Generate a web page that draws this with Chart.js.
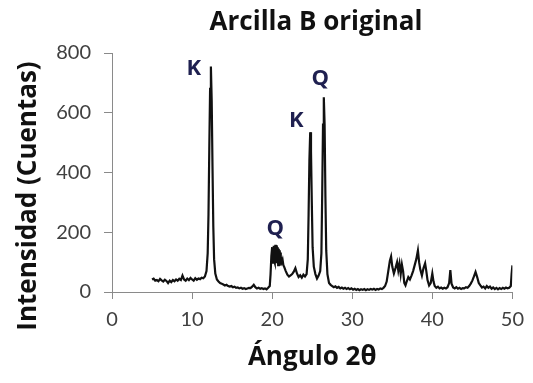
<!DOCTYPE html>
<html>
<head>
<meta charset="utf-8">
<script src="https://cdn.jsdelivr.net/npm/chart.js@4.4.1/dist/chart.umd.min.js"></script>
<style>
  body { margin: 0; background: #fff; }
  #wrap { width: 533px; height: 383px; }
</style>
</head>
<body>
<div id="wrap"><canvas id="xrd-chart" width="533" height="383"></canvas></div>
<script>
// difractograma (2theta, cuentas)
const twoTheta = [
  5.0, 5.2, 5.4, 5.6, 5.8, 6.0, 6.2, 6.4, 6.6, 6.8, 7.0, 7.2, 7.4, 7.6, 7.8, 8.0, 8.2, 8.4, 8.6, 8.8,
  9.0, 9.2, 9.4, 9.6, 9.8, 10.0, 10.2, 10.4, 10.6, 10.8, 11.0, 11.2, 11.4, 11.6, 11.8, 11.95, 12.05, 12.15, 12.25, 12.35,
  12.45, 12.55, 12.65, 12.75, 12.9, 13.1, 13.3, 13.5, 13.7, 13.9, 14.1, 14.3, 14.5, 14.7, 14.9, 15.1, 15.3, 15.5, 15.7, 15.9,
  16.1, 16.3, 16.5, 16.7, 16.9, 17.1, 17.3, 17.5, 17.7, 17.9, 18.1, 18.3, 18.5, 18.7, 18.9, 19.1, 19.3, 19.5, 19.7, 19.8,
  19.9, 20.0, 20.05, 20.1, 20.15, 20.2, 20.25, 20.3, 20.35, 20.4, 20.45, 20.5, 20.55, 20.6, 20.65, 20.7, 20.75, 20.8, 20.85, 20.9,
  20.95, 21.0, 21.05, 21.1, 21.2, 21.3, 21.4, 21.5, 21.7, 21.9, 22.1, 22.3, 22.5, 22.7, 22.9, 23.1, 23.3, 23.5, 23.7, 23.9,
  24.1, 24.3, 24.45, 24.55, 24.65, 24.75, 24.85, 24.95, 25.05, 25.2, 25.4, 25.6, 25.8, 26.0, 26.15, 26.25, 26.35, 26.45, 26.55, 26.65,
  26.75, 26.9, 27.1, 27.3, 27.5, 27.7, 27.9, 28.1, 28.3, 28.5, 28.7, 28.9, 29.1, 29.3, 29.5, 29.7, 29.9, 30.1, 30.3, 30.5,
  30.7, 30.9, 31.1, 31.3, 31.5, 31.7, 31.9, 32.1, 32.3, 32.5, 32.7, 32.9, 33.1, 33.3, 33.5, 33.7, 33.9, 34.1, 34.3, 34.5,
  34.7, 34.85, 35.0, 35.2, 35.4, 35.6, 35.75, 35.9, 36.05, 36.2, 36.35, 36.5, 36.65, 36.8, 37.0, 37.2, 37.4, 37.6, 37.8, 38.0,
  38.2, 38.35, 38.5, 38.7, 38.9, 39.1, 39.25, 39.4, 39.6, 39.8, 40.0, 40.15, 40.3, 40.5, 40.7, 40.9, 41.1, 41.3, 41.5, 41.7,
  41.9, 42.1, 42.25, 42.4, 42.6, 42.8, 43.0, 43.2, 43.4, 43.6, 43.8, 44.0, 44.2, 44.4, 44.6, 44.8, 45.0, 45.2, 45.4, 45.6,
  45.8, 46.0, 46.2, 46.4, 46.6, 46.8, 47.0, 47.2, 47.4, 47.6, 47.8, 48.0, 48.2, 48.4, 48.6, 48.8, 49.0, 49.2, 49.4, 49.6,
  49.8, 49.9, 50.0
];
const counts = [
  42, 45, 38, 40, 36, 44, 39, 35, 41, 37, 30, 38, 33, 40, 36, 42, 38, 44, 40, 55,
  42, 38, 45, 40, 47, 42, 38, 46, 41, 45, 43, 48, 46, 52, 70, 130, 260, 480, 680, 755,
  640, 420, 220, 110, 62, 42, 35, 30, 28, 25, 22, 24, 20, 18, 20, 16, 18, 14, 15, 12,
  14, 11, 13, 10, 12, 14, 13, 18, 24, 16, 12, 14, 11, 13, 10, 12, 9, 14, 20, 60,
  120, 150, 95, 148, 100, 155, 105, 152, 98, 158, 110, 150, 96, 156, 108, 150, 90, 145, 95, 140,
  88, 132, 92, 118, 100, 108, 90, 84, 70, 58, 52, 56, 60, 68, 80, 62, 50, 56, 48, 58,
  52, 60, 110, 260, 440, 535, 470, 300, 150, 85, 60, 45, 55, 70, 130, 330, 560, 652, 560, 320,
  140, 60, 30, 24, 20, 16, 19, 14, 17, 12, 15, 11, 14, 10, 13, 9, 12, 8, 11, 7,
  10, 6, 9, 7, 10, 6, 9, 7, 10, 8, 11, 7, 10, 8, 12, 10, 14, 20, 35, 70,
  105, 119, 85, 62, 80, 100, 72, 95, 60, 92, 70, 30, 22, 35, 50, 42, 55, 70, 90, 110,
  139, 100, 75, 55, 80, 96, 70, 40, 22, 30, 62, 35, 20, 14, 18, 12, 15, 11, 14, 12,
  16, 30, 73, 28, 15, 12, 16, 11, 14, 10, 13, 12, 16, 14, 20, 28, 38, 52, 67, 50,
  30, 22, 15, 18, 12, 20, 14, 18, 11, 15, 10, 14, 9, 13, 10, 14, 11, 15, 12, 14,
  20, 60, 89
];

// etiquetas de picos: K = caolinita, Q = cuarzo
const peakNames = ['K', 'Q', 'K', 'Q'];
const peakTheta = [10.2, 20.4, 23.0, 26.0];
const peakCounts = [747, 212, 574, 714];

const xTicks = [0, 10, 20, 30, 40, 50];
const yTicks = [0, 200, 400, 600, 800];

const chartTitle = 'Arcilla B original';
const xTitle = 'Ángulo 2θ';
const yTitle = 'Intensidad (Cuentas)';

const TICK_FONT = "Lato, 'Open Sans', sans-serif";
const BOLD_FONT = "'Open Sans', Lato, sans-serif";
const axisGray = '#8a8a8a';
const textGray = '#404040';

const points = twoTheta.map(function (t, i) {
    return { x: t, y: counts[i] };
});

// titulo, titulo del eje y y letras de los picos
const labelsPlugin = {
    id: 'labelsPlugin',
    afterDraw: function (chart) {
        const ctx = chart.ctx;
        const xs = chart.scales.x;
        const ys = chart.scales.y;
        ctx.save();
        ctx.textAlign = 'center';
        ctx.textBaseline = 'middle';
        ctx.fillStyle = '#111';
        ctx.font = 'bold 26px ' + BOLD_FONT;
        ctx.fillText(chartTitle, 316, 23);

        ctx.save();
        ctx.translate(29, 196);
        ctx.rotate(-Math.PI / 2);
        ctx.font = 'bold 26px ' + BOLD_FONT;
        ctx.fillText(yTitle, 0, 0);
        ctx.restore();

        ctx.fillStyle = '#1f2050';
        ctx.font = 'bold 22px ' + BOLD_FONT;
        peakNames.forEach(function (name, i) {
            ctx.fillText(name, xs.getPixelForValue(peakTheta[i]), ys.getPixelForValue(peakCounts[i]));
        });
        ctx.restore();
    }
};

const ctx = document.getElementById('xrd-chart').getContext('2d');
new Chart(ctx, {
    type: 'scatter',
    data: {
        datasets: [{
            label: 'Arcilla B original',
            data: points,
            showLine: true,
            borderColor: '#111',
            borderWidth: 2.2,
            pointRadius: 0,
            tension: 0
        }]
    },
    options: {
        responsive: false,
        animation: false,
        layout: { padding: { top: 53, right: 15, left: 0, bottom: 0 } },
        plugins: {
            legend: { display: false },
            tooltip: { enabled: false }
        },
        scales: {
            x: {
                type: 'linear',
                min: 0,
                max: 50,
                afterBuildTicks: function (scale) {
                    scale.ticks = xTicks.map(function (v) { return { value: v }; });
                },
                afterFit: function (scale) { scale.height = 91; },
                grid: { drawOnChartArea: false, color: axisGray, tickLength: 7 },
                border: { color: axisGray, width: 1 },
                ticks: { color: textGray, font: { family: TICK_FONT, size: 20 }, padding: 9, maxRotation: 0 },
                title: {
                    display: true,
                    text: xTitle,
                    color: '#111',
                    font: { family: BOLD_FONT, size: 26, weight: 'bold' },
                    padding: { top: 0, bottom: 10 }
                }
            },
            y: {
                min: 0,
                max: 800,
                afterBuildTicks: function (scale) {
                    scale.ticks = yTicks.map(function (v) { return { value: v }; });
                },
                afterFit: function (scale) { scale.width = 112; },
                grid: { drawOnChartArea: false, color: axisGray, tickLength: 8 },
                border: { color: axisGray, width: 1 },
                ticks: { color: textGray, font: { family: TICK_FONT, size: 20 }, padding: 13 }
            }
        }
    },
    plugins: [labelsPlugin]
});
</script>
</body>
</html>
